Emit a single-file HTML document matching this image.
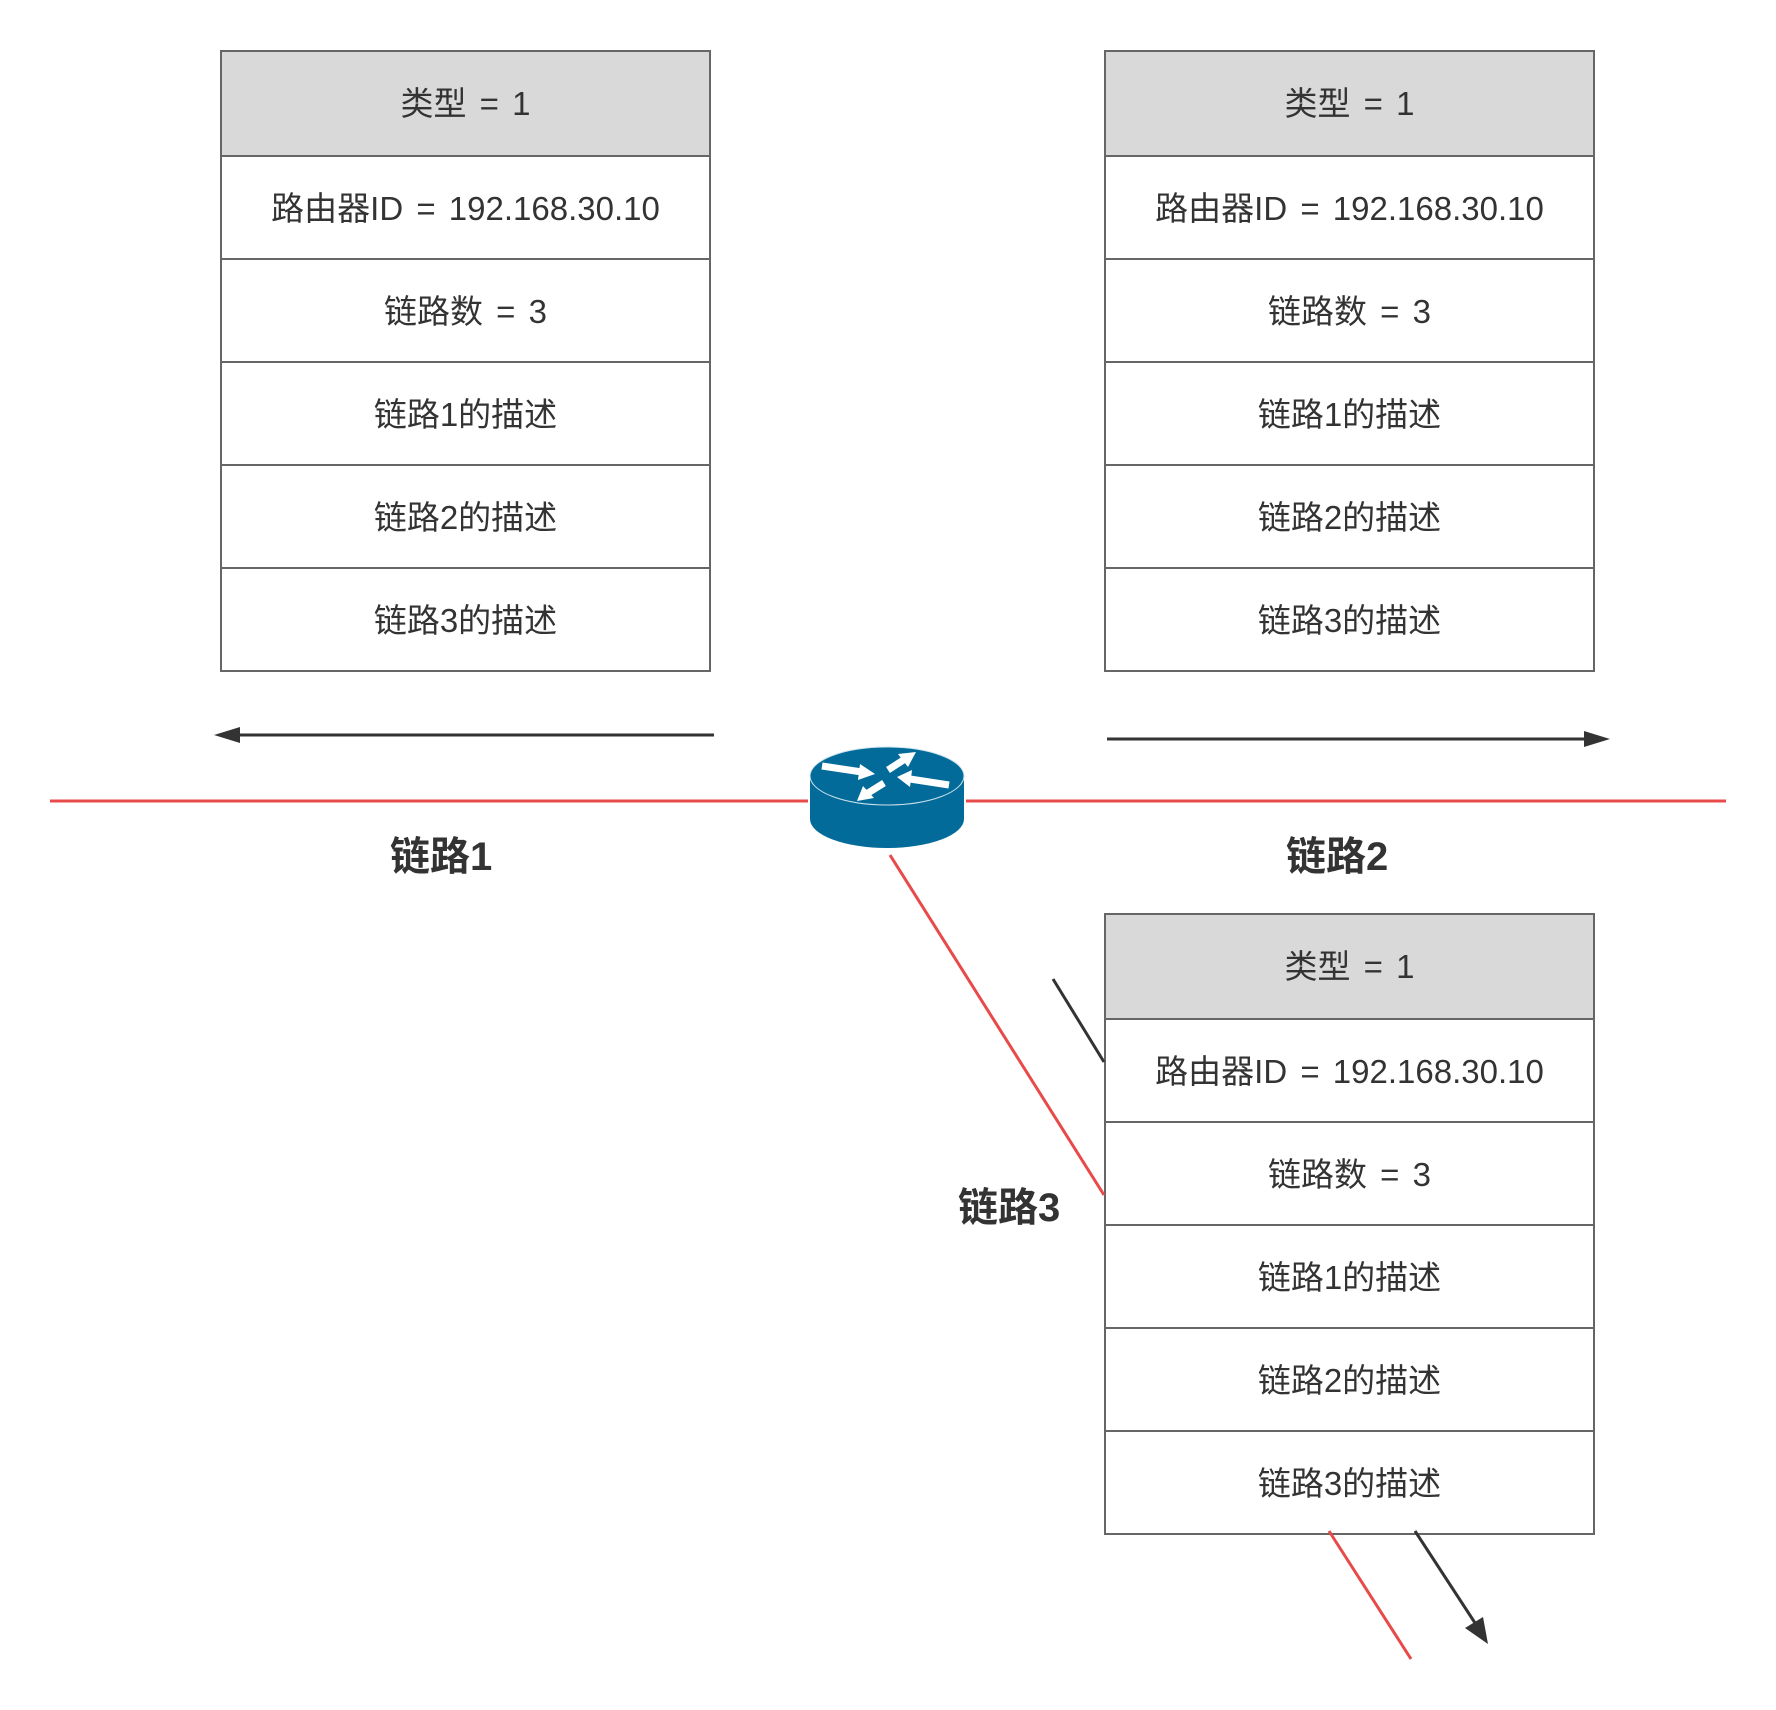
<!DOCTYPE html>
<html><head><meta charset="utf-8"><style>
body{margin:0;width:1776px;height:1710px;background:#fff;position:relative;overflow:hidden;font-family:"Liberation Sans","Noto Sans CJK SC",sans-serif;color:#333}
.t{position:absolute;width:491px;border:2px solid #666;box-sizing:border-box}
.t div{height:103px;line-height:103px;text-align:center;font-size:33px;border-top:2px solid #666;box-sizing:border-box;word-spacing:4px}
.t div:first-child{border-top:none;background:#d9d9d9}
.l{position:absolute;font-weight:bold;font-size:40px;color:#333}
svg{position:absolute;left:0;top:0}
</style></head><body>
<div class="t" style="left:220px;top:50px"><div>类型 = 1</div><div>路由器ID = 192.168.30.10</div><div>链路数 = 3</div><div>链路1的描述</div><div>链路2的描述</div><div>链路3的描述</div></div>
<div class="t" style="left:1104px;top:50px"><div>类型 = 1</div><div>路由器ID = 192.168.30.10</div><div>链路数 = 3</div><div>链路1的描述</div><div>链路2的描述</div><div>链路3的描述</div></div>
<div class="t" style="left:1104px;top:913px"><div>类型 = 1</div><div>路由器ID = 192.168.30.10</div><div>链路数 = 3</div><div>链路1的描述</div><div>链路2的描述</div><div>链路3的描述</div></div>
<svg width="1776" height="1710">
<g stroke="#e84a4a" stroke-width="3" fill="none">
<line x1="50" y1="801" x2="808" y2="801"/><line x1="966" y1="801" x2="1726" y2="801"/>
<line x1="890" y1="855" x2="1104" y2="1195"/>
<line x1="1329" y1="1531" x2="1411" y2="1659"/>
</g>
<g stroke="#333" stroke-width="3" fill="#333">
<line x1="714" y1="735" x2="230" y2="735"/><polygon points="214,735 240,727 240,743" stroke="none"/>
<line x1="1107" y1="739" x2="1592" y2="739"/><polygon points="1610,739 1584,731 1584,747" stroke="none"/>
<line x1="1053" y1="979" x2="1104" y2="1062"/>
<line x1="1415" y1="1531" x2="1477" y2="1626"/><polygon points="1488,1644 1465,1628 1483,1617" stroke="none"/>
</g>
<g>
<path d="M810,776 L810,819 A77,29 0 0 0 964,819 L964,776 Z" fill="#036b9a"/>
<ellipse cx="887" cy="776" rx="77" ry="29" fill="#036b9a" stroke="#cfe3ee" stroke-width="1"/>
<g stroke="#fff" stroke-width="7" fill="#fff">
<line x1="822" y1="766" x2="862" y2="772"/><polygon points="875,774 860,764 858,780" stroke="none"/>
<line x1="888" y1="770" x2="905" y2="759"/><polygon points="916,752 898,754 908,767" stroke="none"/>
<line x1="949" y1="785" x2="910" y2="779"/><polygon points="897,777 912,770 910,787" stroke="none"/>
<line x1="884" y1="783" x2="868" y2="793"/><polygon points="857,801 863,786 874,798" stroke="none"/>
</g>
</g>
</svg>
<div class="l" style="left:390px;top:824px">链路1</div>
<div class="l" style="left:1286px;top:824px">链路2</div>
<div class="l" style="left:958px;top:1175px">链路3</div>
</body></html>
